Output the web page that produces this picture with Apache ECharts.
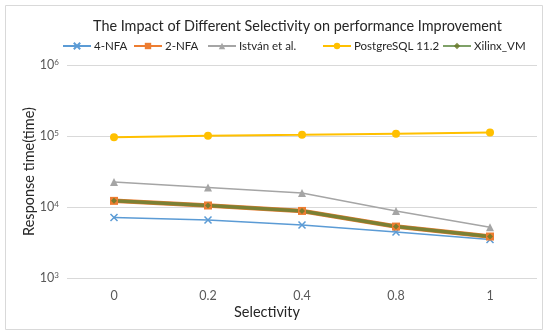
<!DOCTYPE html>
<html><head><meta charset="utf-8">
<script src="https://cdn.jsdelivr.net/npm/echarts@6/dist/echarts.min.js"></script>
<style>html,body{margin:0;padding:0;background:#fff}#c{width:550px;height:336px}</style>
</head><body><div id="c"></div>
<script>
const categories = ['0', '0.2', '0.4', '0.8', '1'];
const seriesNames = ['4-NFA', '2-NFA', 'István et al.', 'PostgreSQL 11.2', 'Xilinx_VM'];
const nfa4 = [7100, 6560, 5570, 4450, 3480];
const nfa2 = [12200, 10500, 8800, 5300, 3840];
const istvan = [22500, 18800, 15700, 8800, 5200];
const postgres = [96000, 101000, 104000, 108000, 112000];
const xilinx = [12200, 10500, 8800, 5300, 3840];

const FONT = 'Lato';
const legendLefts = [62, 133, 207, 322, 442];
const chart = echarts.init(document.getElementById('c'));
const legendText = {fontFamily: FONT, fontSize: 11.5, color: '#262626', padding: [0,0,0,-2]};
chart.setOption({
  animation: false,
  textStyle: {fontFamily: FONT},
  graphic: [{type: 'rect', shape: {x: 5.5, y: 5.5, width: 537, height: 324}, style: {fill: 'none', stroke: '#d9d9d9', lineWidth: 1}, z: -1}],
  title: {text: 'The Impact of Different Selectivity on performance Improvement', left: 88, top: 14,
    textStyle: {fontFamily: FONT, fontSize: 14.4, fontWeight: 'normal', color: '#262626'}},
  legend: seriesNames.map((n, i) => ({data: [n], left: legendLefts[i], top: 40, padding: 0,
    itemWidth: 28, itemHeight: 8, textStyle: legendText})),
  grid: {left: 67, right: 13, top: 65, bottom: 58},
  xAxis: {type: 'category', data: categories, boundaryGap: true,
    name: 'Selectivity', nameLocation: 'middle', nameGap: 27, nameMoveOverlap: false,
    nameTextStyle: {fontFamily: FONT, fontSize: 14.5, color: '#262626', padding: [0, 70, 0, 0]},
    axisLine: {show: false}, axisTick: {show: false},
    axisLabel: {fontFamily: FONT, fontSize: 12.5, color: '#595959', margin: 11}},
  yAxis: {type: 'log', logBase: 10, min: 1000, max: 1000000,
    name: 'Response time(time)', nameLocation: 'middle', nameGap: 30, nameMoveOverlap: false,
    nameTextStyle: {fontFamily: FONT, fontSize: 14.5, color: '#262626'},
    axisLine: {show: false}, axisTick: {show: false},
    splitLine: {lineStyle: {color: '#d9d9d9'}},
    axisLabel: {margin: 8, formatter: v => '{b|10}{s|' + Math.round(Math.log10(v)) + '}',
      rich: {b: {fontFamily: FONT, fontSize: 12.5, color: '#595959'}, s: {fontFamily: FONT, fontSize: 8, color: '#595959', verticalAlign: 'top', padding: [0,0,6,0]}}}},
  series: [
    {name: seriesNames[0], type: 'line', data: nfa4, symbol: 'path://M-1,-1L1,1M1,-1L-1,1', symbolSize: 7,
      color: '#5B9BD5', lineStyle: {width: 1.5, color: '#5B9BD5'}, itemStyle: {color: '#5B9BD5', borderColor: '#5B9BD5', borderWidth: 1.5}},
    {name: seriesNames[1], type: 'line', data: nfa2, symbol: 'rect', symbolSize: 8,
      color: '#ED7D31', lineStyle: {width: 4.5, color: '#ED7D31'}, itemStyle: {color: '#ED7D31'}},
    {name: seriesNames[2], type: 'line', data: istvan, symbol: 'triangle', symbolSize: 8,
      color: '#A5A5A5', lineStyle: {width: 1.5, color: '#A5A5A5'}, itemStyle: {color: '#A5A5A5'}},
    {name: seriesNames[3], type: 'line', data: postgres, symbol: 'circle', symbolSize: 8,
      color: '#FFC000', lineStyle: {width: 2, color: '#FFC000'}, itemStyle: {color: '#FFC000'}},
    {name: seriesNames[4], type: 'line', data: xilinx, symbol: 'diamond', symbolSize: 6,
      color: '#548235', lineStyle: {width: 3.5, color: '#548235', opacity: 0.75}, itemStyle: {color: '#6a7a2a', opacity: 0.85}}
  ]
});
</script></body></html>
